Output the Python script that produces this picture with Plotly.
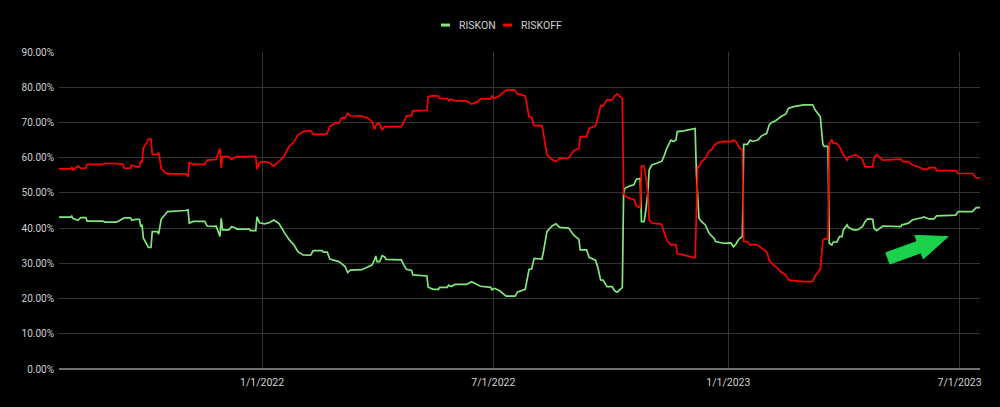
import plotly.graph_objects as go

dates = [
    "2021-07-26", "2021-08-04", "2021-08-05", "2021-08-06", "2021-08-10", "2021-08-12", "2021-08-16", "2021-08-17",
    "2021-08-29", "2021-08-31", "2021-09-09", "2021-09-14", "2021-09-15", "2021-09-20", "2021-09-21", "2021-09-24",
    "2021-09-27", "2021-09-28", "2021-09-29", "2021-09-30", "2021-10-03", "2021-10-04", "2021-10-06", "2021-10-07",
    "2021-10-11", "2021-10-12", "2021-10-14", "2021-10-17", "2021-10-19", "2021-11-02", "2021-11-04", "2021-11-05",
    "2021-11-08", "2021-11-17", "2021-11-19", "2021-11-25", "2021-11-26", "2021-11-29", "2021-11-30", "2021-12-01",
    "2021-12-06", "2021-12-08", "2021-12-11", "2021-12-12", "2021-12-22", "2021-12-23", "2021-12-27", "2021-12-28",
    "2021-12-30", "2022-01-03", "2022-01-07", "2022-01-10", "2022-01-14", "2022-01-18", "2022-01-22", "2022-01-26",
    "2022-01-29", "2022-02-02", "2022-02-08", "2022-02-10", "2022-02-17", "2022-02-18", "2022-02-21", "2022-02-23",
    "2022-02-27", "2022-03-02", "2022-03-04", "2022-03-07", "2022-03-09", "2022-03-11", "2022-03-20", "2022-03-25",
    "2022-03-28", "2022-03-30", "2022-03-31", "2022-04-01", "2022-04-03", "2022-04-05", "2022-04-07", "2022-04-08",
    "2022-04-20", "2022-04-22", "2022-04-24", "2022-04-28", "2022-04-29", "2022-05-10", "2022-05-11", "2022-05-15",
    "2022-05-19", "2022-05-20", "2022-05-26", "2022-05-27", "2022-05-29", "2022-06-01", "2022-06-10", "2022-06-14",
    "2022-06-19", "2022-06-21", "2022-06-29", "2022-06-30", "2022-07-02", "2022-07-06", "2022-07-11", "2022-07-18",
    "2022-07-20", "2022-07-26", "2022-07-29", "2022-07-31", "2022-08-02", "2022-08-08", "2022-08-09", "2022-08-12",
    "2022-08-16", "2022-08-19", "2022-08-22", "2022-08-29", "2022-09-02", "2022-09-06", "2022-09-07", "2022-09-12",
    "2022-09-14", "2022-09-19", "2022-09-21", "2022-09-23", "2022-09-25", "2022-09-28", "2022-10-02", "2022-10-04",
    "2022-10-06", "2022-10-10", "2022-10-11", "2022-10-12", "2022-10-16", "2022-10-19", "2022-10-21", "2022-10-24",
    "2022-10-25", "2022-10-27", "2022-10-28", "2022-10-30", "2022-10-31", "2022-11-02", "2022-11-06", "2022-11-09",
    "2022-11-10", "2022-11-12", "2022-11-14", "2022-11-17", "2022-11-19", "2022-11-21", "2022-11-22", "2022-11-27",
    "2022-12-02", "2022-12-05", "2022-12-06", "2022-12-07", "2022-12-08", "2022-12-09", "2022-12-11", "2022-12-14",
    "2022-12-17", "2022-12-19", "2022-12-21", "2022-12-22", "2022-12-24", "2022-12-26", "2022-12-28", "2023-01-03",
    "2023-01-05", "2023-01-07", "2023-01-08", "2023-01-10", "2023-01-12", "2023-01-13", "2023-01-16", "2023-01-18",
    "2023-01-20", "2023-01-24", "2023-01-27", "2023-01-31", "2023-02-02", "2023-02-04", "2023-02-07", "2023-02-11",
    "2023-02-15", "2023-02-17", "2023-02-21", "2023-03-01", "2023-03-08", "2023-03-10", "2023-03-14", "2023-03-16",
    "2023-03-17", "2023-03-19", "2023-03-20", "2023-03-21", "2023-03-23", "2023-03-24", "2023-03-27", "2023-03-29",
    "2023-03-31", "2023-04-01", "2023-04-04", "2023-04-05", "2023-04-09", "2023-04-11", "2023-04-13", "2023-04-14",
    "2023-04-16", "2023-04-18", "2023-04-20", "2023-04-24", "2023-04-25", "2023-04-27", "2023-05-02", "2023-05-16",
    "2023-05-17", "2023-05-18", "2023-05-22", "2023-05-25", "2023-05-29", "2023-06-02", "2023-06-03", "2023-06-06",
    "2023-06-07", "2023-06-11", "2023-06-12", "2023-06-13", "2023-06-28", "2023-06-30", "2023-07-11", "2023-07-14",
    "2023-07-17",
]

riskon = [
    43.1, 43.1, 43.4, 42.7, 42.2, 43.0, 43.0, 42.0,
    42.0, 41.7, 41.7, 42.9, 42.9, 42.9, 42.2, 42.5,
    42.5, 40.4, 41.0, 37.2, 35.2, 34.5, 34.5, 39.0,
    39.0, 38.3, 42.5, 44.0, 44.7, 45.0, 45.2, 41.4,
    41.9, 41.9, 40.6, 40.5, 40.6, 37.6, 42.8, 39.5,
    39.5, 40.4, 40.1, 39.7, 39.7, 39.3, 39.3, 43.2,
    41.5, 41.2, 41.6, 42.3, 41.4, 39.0, 36.8, 35.2,
    33.3, 32.4, 32.3, 33.6, 33.6, 33.2, 33.2, 31.2,
    30.8, 30.5, 30.0, 29.1, 27.4, 28.1, 28.2, 28.9,
    29.5, 31.0, 32.1, 30.5, 30.5, 32.2, 31.8, 31.1,
    31.0, 29.5, 28.3, 28.0, 26.7, 26.4, 23.2, 22.6,
    22.6, 23.2, 23.2, 23.8, 23.4, 24.0, 24.0, 24.8,
    23.8, 23.5, 23.2, 22.5, 22.9, 22.2, 20.7, 20.7,
    21.9, 22.6, 28.3, 28.4, 31.4, 31.2, 32.8, 39.0,
    40.6, 41.2, 40.2, 40.0, 38.0, 36.8, 33.8, 33.8,
    31.7, 30.9, 28.6, 25.3, 25.2, 23.4, 23.4, 22.2,
    21.8, 23.2, 49.9, 51.3, 52.0, 52.3, 53.9, 54.1,
    41.8, 41.8, 44.0, 50.0, 56.5, 57.9, 58.4, 59.0,
    59.0, 60.8, 62.8, 65.0, 64.6, 65.0, 67.4, 67.6,
    68.1, 68.3, 68.3, 55.3, 50.0, 42.8, 41.8, 40.9,
    38.5, 37.6, 37.0, 36.2, 36.0, 35.7, 35.7, 35.8,
    34.7, 35.5, 36.2, 37.1, 37.6, 63.8, 63.8, 65.0,
    64.6, 65.0, 66.2, 66.9, 69.3, 70.0, 70.5, 71.6,
    72.4, 74.0, 74.5, 75.0, 75.0, 73.5, 71.6, 63.8,
    63.2, 63.2, 63.2, 35.7, 35.2, 36.0, 36.1, 37.6,
    37.6, 39.5, 40.9, 40.2, 39.5, 39.5, 39.6, 40.0,
    40.4, 41.8, 42.6, 42.5, 40.0, 39.3, 40.6, 40.4,
    41.0, 41.0, 41.4, 42.3, 42.6, 43.0, 43.2, 42.6,
    42.6, 42.6, 43.0, 43.5, 43.7, 44.7, 44.7, 45.8,
    45.8,
]

riskoff = [
    56.8, 56.8, 57.2, 56.5, 57.6, 57.0, 57.0, 58.1,
    58.1, 58.4, 58.3, 58.2, 57.0, 57.0, 57.9, 57.4,
    57.4, 59.1, 58.6, 62.7, 64.5, 65.3, 65.3, 60.9,
    60.9, 61.5, 57.0, 55.7, 55.4, 55.4, 54.6, 58.6,
    58.1, 58.1, 59.3, 59.6, 59.5, 62.6, 57.0, 60.3,
    60.3, 59.5, 60.0, 60.3, 60.3, 60.4, 60.4, 56.7,
    58.6, 58.9, 58.5, 57.6, 58.9, 60.3, 63.1, 64.5,
    66.4, 67.4, 67.7, 66.6, 66.6, 66.5, 66.9, 68.8,
    69.8, 69.8, 71.2, 71.2, 72.6, 71.9, 71.8, 71.2,
    70.2, 68.0, 69.0, 69.6, 69.6, 67.9, 68.8, 68.8,
    68.8, 70.2, 71.8, 72.0, 73.3, 73.4, 77.3, 77.6,
    77.5, 76.8, 76.8, 76.2, 76.6, 76.1, 76.1, 75.2,
    75.9, 76.7, 76.7, 77.5, 76.8, 77.6, 79.2, 79.2,
    78.1, 77.5, 71.6, 71.5, 69.1, 69.1, 67.4, 60.8,
    59.5, 58.9, 59.8, 59.9, 62.0, 62.6, 66.0, 66.0,
    68.3, 69.0, 71.4, 74.7, 74.7, 76.4, 76.4, 77.5,
    78.1, 76.8, 49.9, 49.1, 48.4, 48.2, 46.3, 45.8,
    57.6, 57.6, 55.5, 50.0, 42.3, 41.5, 41.2, 41.3,
    40.8, 38.5, 36.5, 35.2, 35.4, 35.2, 32.7, 32.4,
    31.8, 31.6, 31.6, 44.2, 57.4, 57.4, 58.9, 59.8,
    61.9, 62.2, 63.6, 63.8, 64.3, 64.4, 64.6, 64.5,
    65.0, 64.5, 63.8, 62.6, 62.2, 36.2, 36.2, 35.2,
    35.4, 35.2, 34.3, 33.3, 30.9, 30.0, 29.1, 27.6,
    26.7, 25.3, 25.1, 24.8, 24.8, 26.5, 28.3, 36.6,
    36.9, 37.0, 37.0, 64.1, 65.0, 64.2, 64.0, 63.1,
    61.7, 60.8, 59.3, 60.1, 60.6, 60.8, 60.3, 60.0,
    59.5, 57.4, 57.4, 57.4, 59.8, 60.8, 59.3, 59.6,
    59.2, 58.9, 58.9, 57.9, 57.5, 56.7, 56.7, 56.7,
    57.2, 57.2, 57.2, 56.3, 56.3, 55.5, 55.5, 54.3,
    54.3,
]

series_names = ["RISKON", "RISKOFF"]
series_colors = ["#82e67f", "#ff0000"]

x_tick_vals = ["2022-01-01", "2022-07-01", "2023-01-01", "2023-07-01"]
x_tick_text = ["1/1/2022", "7/1/2022", "1/1/2023", "7/1/2023"]
y_tick_vals = [0, 10, 20, 30, 40, 50, 60, 70, 80, 90]
y_tick_text = ["0.00%", "10.00%", "20.00%", "30.00%", "40.00%", "50.00%",
               "60.00%", "70.00%", "80.00%", "90.00%"]

FONT = "Roboto, Arial, sans-serif"

fig = go.Figure()
for name, vals, col in zip(series_names, [riskon, riskoff], series_colors):
    fig.add_trace(go.Scatter(
        x=dates, y=vals, mode="lines", name=name,
        line=dict(color=col, width=1.7), showlegend=False,
    ))

# custom legend (short line swatch + label)
legend_y = 1.085
legend_items = [(0.4148, 0.4245, 0.4321), (0.4821, 0.4919, 0.4995)]
shapes = []
annotations = []
for (x0, x1, xt), name, col in zip(legend_items, series_names, series_colors):
    shapes.append(dict(type="line", xref="paper", yref="paper", x0=x0, x1=x1,
                       y0=legend_y, y1=legend_y, line=dict(color=col, width=3)))
    annotations.append(dict(xref="paper", yref="paper", x=xt, y=legend_y, text=name,
                            showarrow=False, xanchor="left", yanchor="middle",
                            font=dict(family=FONT, size=10.5, color="#d0d0d0")))

# green block arrow decoration
arrow_pts = [(0.8977, 0.3669), (0.9316, 0.4023), (0.9292, 0.4215), (0.9655, 0.4177),
             (0.9384, 0.3474), (0.9360, 0.3666), (0.9021, 0.3312)]
path = "M " + " L ".join(f"{px},{py}" for px, py in arrow_pts) + " Z"
shapes.append(dict(type="path", xref="paper", yref="paper", path=path,
                   fillcolor="#1cd14c", line=dict(color="#1cd14c", width=1)))

fig.update_layout(
    width=1000, height=407,
    paper_bgcolor="#000000", plot_bgcolor="#000000",
    margin=dict(l=59, r=20, t=52, b=38),
    font=dict(family=FONT, color="#cccccc"),
    shapes=shapes, annotations=annotations,
    showlegend=False,
)
fig.update_xaxes(
    range=[dates[0], dates[-1]],
    tickvals=x_tick_vals, ticktext=x_tick_text,
    showgrid=True, gridcolor="#333333", gridwidth=1,
    zeroline=False, showline=False, ticks="",
    ticklabelstandoff=5,
    tickfont=dict(family=FONT, size=10.5, color="#d0d0d0"),
)
fig.update_yaxes(
    range=[0, 90],
    tickvals=y_tick_vals, ticktext=y_tick_text,
    showgrid=True, gridcolor="#333333", gridwidth=1,
    zeroline=True, zerolinecolor="#707070", zerolinewidth=2,
    showline=False, ticks="",
    ticklabelstandoff=4,
    tickfont=dict(family=FONT, size=10, color="#d0d0d0"),
)

fig.write_html(
    "out.html",
    config={"displayModeBar": False},
    post_script="document.body.style.margin='0';document.body.style.background='#000';document.body.style.overflow='hidden';",
)
